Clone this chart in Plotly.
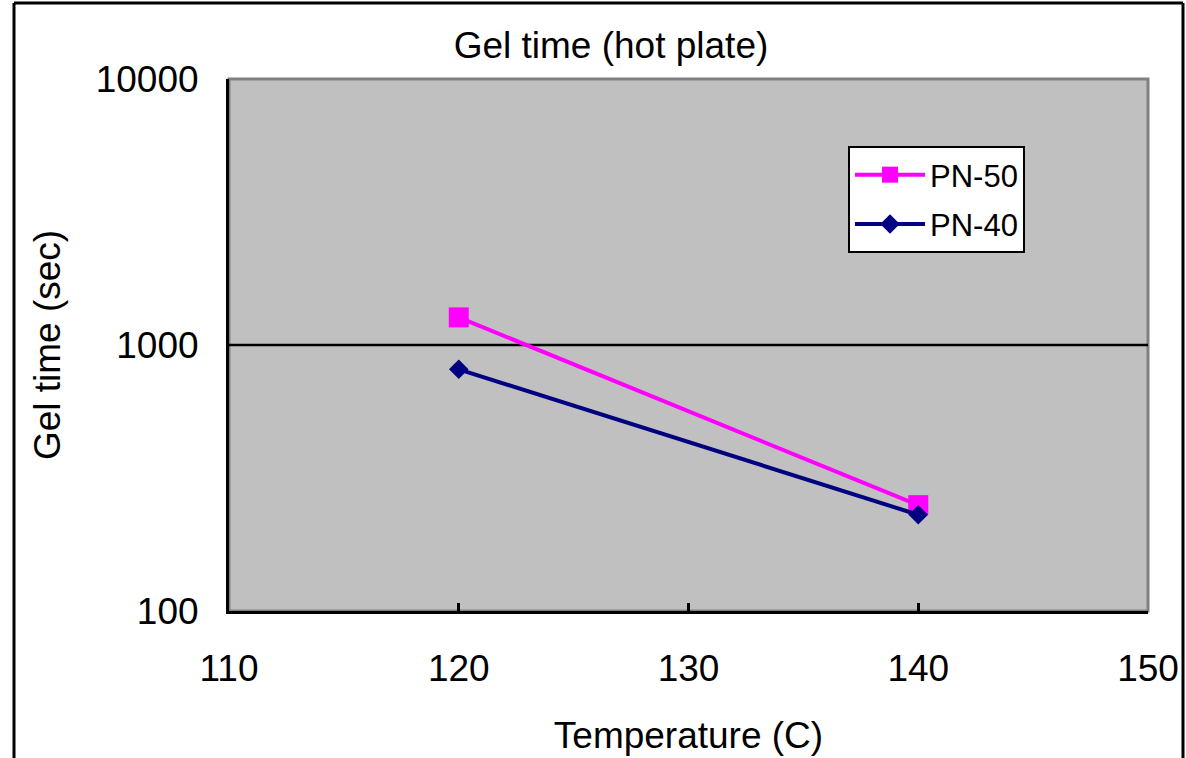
import plotly.graph_objects as go

temperature = [120, 140]
pn50 = [1270, 250]
pn40 = [810, 230]
x_ticks = [110, 120, 130, 140, 150]
y_ticks = [100, 1000, 10000]
y_tick_text = ["100", "1000", "10000"]

FONT = "Liberation Sans, Arial, sans-serif"

W, H = 1186, 758
L, R, T, B = 229, 1186 - 1148, 79, 758 - 611
pw, ph = W - L - R, H - T - B

def px(xp):
    return (xp - L) / pw

def py(yp):
    return (H - B - yp) / ph

fig = go.Figure()
fig.add_trace(go.Scatter(
    x=temperature, y=pn50, name="PN-50", mode="lines+markers",
    line=dict(color="#FF00FF", width=4),
    marker=dict(symbol="square", size=20, color="#FF00FF"),
    legendgroup="a",
))
fig.add_trace(go.Scatter(
    x=temperature, y=pn40, name="PN-40", mode="lines+markers",
    line=dict(color="#000080", width=4),
    marker=dict(symbol="diamond", size=15, color="#000080"),
    legendgroup="b",
))

shapes = [
    dict(type="rect", xref="paper", yref="paper", x0=0, x1=1, y0=0, y1=1,
         line=dict(color="#808080", width=3), layer="below"),
    dict(type="line", xref="paper", yref="y", x0=0, x1=1, y0=y_ticks[1], y1=y_ticks[1],
         line=dict(color="black", width=2.5), layer="below"),
    dict(type="line", xref="paper", yref="paper", x0=px(14), x1=px(14), y0=py(3), y1=py(800),
         line=dict(color="black", width=3)),
    dict(type="line", xref="paper", yref="paper", x0=px(14), x1=px(1183), y0=py(3), y1=py(3),
         line=dict(color="black", width=3)),
    dict(type="line", xref="paper", yref="paper", x0=px(1183), x1=px(1183), y0=py(3), y1=py(800),
         line=dict(color="black", width=3)),
]

fig.update_layout(
    width=W, height=H,
    margin=dict(l=L, r=R, t=T, b=B, pad=0, autoexpand=False),
    paper_bgcolor="white",
    plot_bgcolor="#C0C0C0",
    font=dict(family=FONT, size=37, color="black"),
    title=dict(text="Gel time (hot plate)", x=611 / W, xanchor="center",
               y=1 - 45 / H, yanchor="middle", yref="container",
               font=dict(size=37, family=FONT), automargin=False),
    xaxis=dict(
        range=[110, 150], tickvals=x_ticks, ticks="inside", ticklen=8, tickwidth=3,
        tickcolor="black", showgrid=False, zeroline=False,
        showline=True, linecolor="black", linewidth=3,
        ticklabelstandoff=23, automargin=False,
        title=dict(text="Temperature (C)", standoff=34, font=dict(size=37)),
        tickfont=dict(size=37),
    ),
    yaxis=dict(
        type="log", range=[2, 4], tickvals=y_ticks, ticktext=y_tick_text, ticks="",
        showgrid=False, zeroline=False,
        showline=True, linecolor="black", linewidth=3,
        ticklabelstandoff=20, automargin=False,
        title=dict(text="Gel time (sec)", standoff=24, font=dict(size=37)),
        tickfont=dict(size=37),
    ),
    legend=dict(
        x=px(848), y=py(146), xanchor="left", yanchor="top",
        bgcolor="white", bordercolor="black", borderwidth=2,
        font=dict(size=31, family=FONT),
        traceorder="grouped", tracegroupgap=6, itemwidth=70,
    ),
    shapes=shapes,
    showlegend=True,
)

fig.write_html("out.html", post_script="document.body.style.margin='0';",
               config={"displayModeBar": False})
